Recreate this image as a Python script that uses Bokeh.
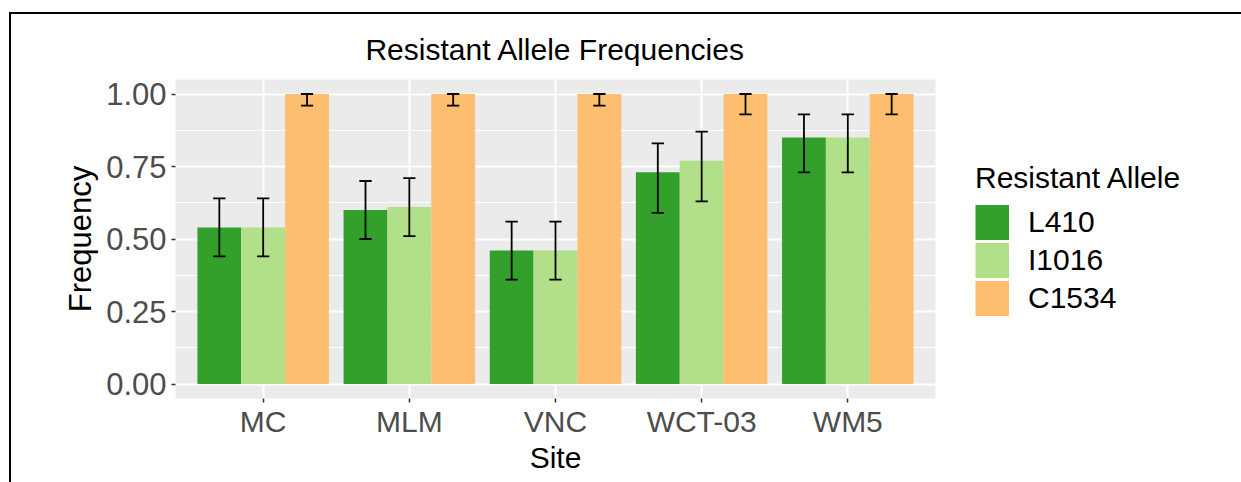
from bokeh.plotting import figure
from bokeh.models import (FactorRange, Range1d, FixedTicker, NumeralTickFormatter,
                          ColumnDataSource, Legend, LegendItem)
from bokeh.transform import dodge
from bokeh.embed import file_html
from bokeh.resources import INLINE

sites = ["MC", "MLM", "VNC", "WCT-03", "WM5"]
alleles = ["L410", "I1016", "C1534"]
colors = ["#33a02c", "#b2df8a", "#fdbf6f"]

L410 = [0.54, 0.60, 0.46, 0.73, 0.85]
L410_lo = [0.44, 0.50, 0.36, 0.59, 0.73]
L410_hi = [0.64, 0.70, 0.56, 0.83, 0.93]

I1016 = [0.54, 0.61, 0.46, 0.77, 0.85]
I1016_lo = [0.44, 0.51, 0.36, 0.63, 0.73]
I1016_hi = [0.64, 0.71, 0.56, 0.87, 0.93]

C1534 = [1.00, 1.00, 1.00, 1.00, 1.00]
C1534_lo = [0.96, 0.96, 0.96, 0.93, 0.93]
C1534_hi = [1.00, 1.00, 1.00, 1.00, 1.00]

y_ticks = [0.0, 0.25, 0.5, 0.75, 1.0]
y_minor = [0.125, 0.375, 0.625, 0.875]

series = [(L410, L410_lo, L410_hi), (I1016, I1016_lo, I1016_hi), (C1534, C1534_lo, C1534_hi)]
offsets = [-0.3, 0.0, 0.3]

FONT = "Liberation Sans"

p = figure(x_range=FactorRange(*sites, range_padding=0.1, range_padding_units="absolute"),
           y_range=Range1d(-0.05, 1.05),
           frame_width=760, frame_height=319,
           output_backend="svg", toolbar_location=None,
           min_border_left=164, min_border_right=304, min_border_top=65, min_border_bottom=84,
           title="Resistant Allele Frequencies",
           styles={"margin-left": "9px", "margin-top": "12px",
                   "border-left": "2px solid black", "border-top": "2px solid black",
                   "border-right": "2px solid black"})

p.background_fill_color = "#ebebeb"
p.border_fill_color = "white"
p.outline_line_color = None

p.title.align = "center"
p.title.text_font = FONT
p.title.text_font_size = "30px"
p.title.text_font_style = "normal"
p.title.text_color = "black"
p.title.standoff = 27

for (vals, lo, hi), off, col in zip(series, offsets, colors):
    src = ColumnDataSource(dict(site=sites, val=vals, lo=lo, hi=hi))
    p.vbar(x=dodge("site", off, range=p.x_range), top="val", bottom=0, width=0.3,
           source=src, fill_color=col, line_color=None)
    p.segment(x0=dodge("site", off, range=p.x_range), x1=dodge("site", off, range=p.x_range),
              y0="lo", y1="hi", source=src, line_color="black", line_width=1.8)
    for yk in ("lo", "hi"):
        p.segment(x0=dodge("site", off - 0.042, range=p.x_range),
                  x1=dodge("site", off + 0.042, range=p.x_range),
                  y0=yk, y1=yk, source=src, line_color="black", line_width=1.8)

# legend keys: thick lines with no drawable points (NaN), used only for the legend swatches
nan = float("nan")
key_renderers = []
for col in colors:
    key_src = ColumnDataSource(dict(x=sites, y=[nan] * len(sites)))
    key_renderers.append(p.line(x="x", y="y", source=key_src, line_color=col, line_width=35))

# grid
p.xgrid.grid_line_color = "white"
p.xgrid.grid_line_width = 2
p.ygrid.grid_line_color = "white"
p.ygrid.grid_line_width = 2
p.ygrid.minor_grid_line_color = "white"
p.ygrid.minor_grid_line_width = 1

p.yaxis.ticker = FixedTicker(ticks=y_ticks, minor_ticks=y_minor)
p.yaxis.formatter = NumeralTickFormatter(format="0.00")

for ax in (p.xaxis[0], p.yaxis[0]):
    ax.axis_line_color = None
    ax.major_tick_line_color = "#333333"
    ax.major_tick_line_width = 1.5
    ax.major_tick_out = 4
    ax.major_tick_in = 0
    ax.minor_tick_line_color = None
    ax.major_label_text_color = "#4d4d4d"
    ax.major_label_text_font = FONT
    ax.axis_label_text_font = FONT
    ax.axis_label_text_font_style = "normal"
    ax.axis_label_text_color = "black"

p.yaxis.major_label_text_font_size = "31px"
p.yaxis.major_label_standoff = 5
p.xaxis.major_label_text_font_size = "30px"
p.xaxis.major_label_standoff = 2
p.xaxis.axis_label = "Site"
p.xaxis.axis_label_text_font_size = "30px"
p.xaxis.axis_label_standoff = 0
p.yaxis.axis_label = "Frequency"
p.yaxis.axis_label_text_font_size = "31px"
p.yaxis.axis_label_standoff = 5

legend = Legend(items=[LegendItem(label=n, renderers=[r]) for n, r in zip(alleles, key_renderers)],
                title="Resistant Allele", location="center_left")
legend.title_text_font = FONT
legend.title_text_font_size = "30px"
legend.title_text_font_style = "normal"
legend.title_text_color = "black"
legend.label_text_font = FONT
legend.label_text_font_size = "30px"
legend.label_text_color = "black"
legend.glyph_width = 34
legend.glyph_height = 38
legend.spacing = 0
legend.label_standoff = 19
legend.padding = 0
legend.margin = 40
legend.border_line_color = None
legend.background_fill_alpha = 0
legend.title_standoff = 8
p.add_layout(legend, "right")

open("out.html", "w").write(file_html(p, INLINE))
